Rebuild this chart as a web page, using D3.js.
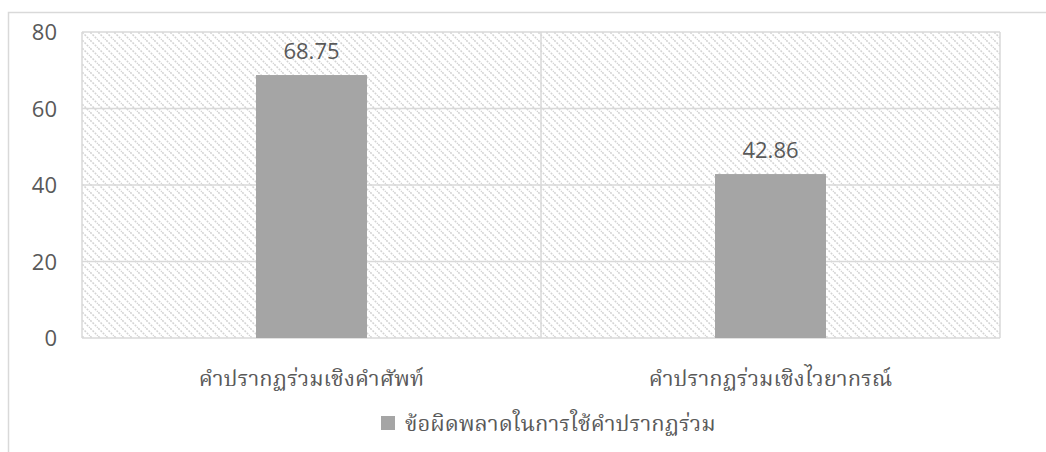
<!DOCTYPE html>
<html>
<head>
<meta charset="utf-8">
<script src="https://cdn.jsdelivr.net/npm/d3@7"></script>
<style>
  body { margin: 0; background: #fff; }
  text { fill: #595959; }
  .tick text { font-family: "Open Sans", sans-serif; font-size: 22px; }
  .thai { font-family: "Noto Serif Thai", "Noto Sans Thai", serif; font-size: 22px; }
</style>
</head>
<body>
<script>
// data
let categories = ["คำปรากฏร่วมเชิงคำศัพท์", "คำปรากฏร่วมเชิงไวยากรณ์"];
let values = [68.75, 42.86];
let seriesName = "ข้อผิดพลาดในการใช้คำปรากฏร่วม";
let yTicks = [0, 20, 40, 60, 80];

let svgWidth = 1046;
let svgHeight = 452;

let margin = { top: 32, right: 46, bottom: 114, left: 82 };
let width = svgWidth - margin.left - margin.right;
let height = svgHeight - margin.top - margin.bottom;

let svg = d3.select("body")
            .append("svg")
            .attr("width", svgWidth)
            .attr("height", svgHeight);

// hatch pattern for plot background
let defs = svg.append("defs");
let pat = defs.append("pattern")
              .attr("id", "hatch")
              .attr("patternUnits", "userSpaceOnUse")
              .attr("width", 8)
              .attr("height", 8);
pat.append("path")
   .attr("d", "M-2,-2 L10,10 M-2,6 L2,10 M6,-2 L10,2")
   .attr("stroke", "#d4d4d4")
   .attr("stroke-width", 1.6)
   .attr("stroke-dasharray", "2,1.2");

// outer chart border (top and left)
svg.append("path")
   .attr("d", `M8.5,${svgHeight} L8.5,12.5 L${svgWidth},12.5`)
   .attr("fill", "none")
   .attr("stroke", "#d9d9d9")
   .attr("stroke-width", 1.5);

let chartGroup = svg.append("g")
                    .attr("transform", `translate(${margin.left}, ${margin.top})`);

let xScale = d3.scaleBand()
               .domain(categories)
               .range([0, width]);

let yScale = d3.scaleLinear()
               .domain([0, 80])
               .range([height, 0]);

chartGroup.append("rect")
          .attr("width", width)
          .attr("height", height)
          .attr("fill", "url(#hatch)");

// horizontal gridlines
chartGroup.selectAll(".hgrid")
          .data(yTicks)
          .enter()
          .append("line")
          .attr("x1", 0)
          .attr("x2", width)
          .attr("y1", d => yScale(d))
          .attr("y2", d => yScale(d))
          .attr("stroke", "#d9d9d9")
          .attr("stroke-width", 1.5);

// vertical gridlines at category edges
let edges = categories.map(c => xScale(c)).concat([width]);
chartGroup.selectAll(".vgrid")
          .data(edges)
          .enter()
          .append("line")
          .attr("x1", d => d)
          .attr("x2", d => d)
          .attr("y1", 0)
          .attr("y2", height)
          .attr("stroke", "#d9d9d9")
          .attr("stroke-width", 1.5);

// y axis
let leftAxis = d3.axisLeft(yScale).tickValues(yTicks).tickSize(0).tickPadding(25);
let yAxisG = chartGroup.append("g").call(leftAxis);
yAxisG.select(".domain").remove();
yAxisG.selectAll("text").attr("dy", "0.36em");

// bars
let barW = 111;
chartGroup.selectAll(".bar")
          .data(values)
          .enter()
          .append("rect")
          .attr("x", (d, i) => xScale(categories[i]) + xScale.bandwidth() / 2 - barW / 2)
          .attr("y", d => yScale(d))
          .attr("width", barW)
          .attr("height", d => height - yScale(d))
          .attr("fill", "#a5a5a5");

// value labels
chartGroup.selectAll(".val")
          .data(values)
          .enter()
          .append("text")
          .attr("x", (d, i) => xScale(categories[i]) + xScale.bandwidth() / 2)
          .attr("y", d => yScale(d) - 16)
          .attr("text-anchor", "middle")
          .attr("font-family", "'Open Sans', sans-serif")
          .attr("font-size", "22px")
          .text(d => d.toFixed(2));

// category labels
chartGroup.selectAll(".cat")
          .data(categories)
          .enter()
          .append("text")
          .attr("class", "thai")
          .attr("x", d => xScale(d) + xScale.bandwidth() / 2)
          .attr("y", height + 48)
          .attr("text-anchor", "middle")
          .text(d => d);

// legend
let legend = svg.append("g").attr("transform", "translate(381, 416)");
legend.append("rect")
      .attr("width", 14)
      .attr("height", 14)
      .attr("fill", "#a5a5a5");
legend.append("text")
      .attr("class", "thai")
      .attr("x", 24)
      .attr("y", 15)
      .text(seriesName);
</script>
</body>
</html>
